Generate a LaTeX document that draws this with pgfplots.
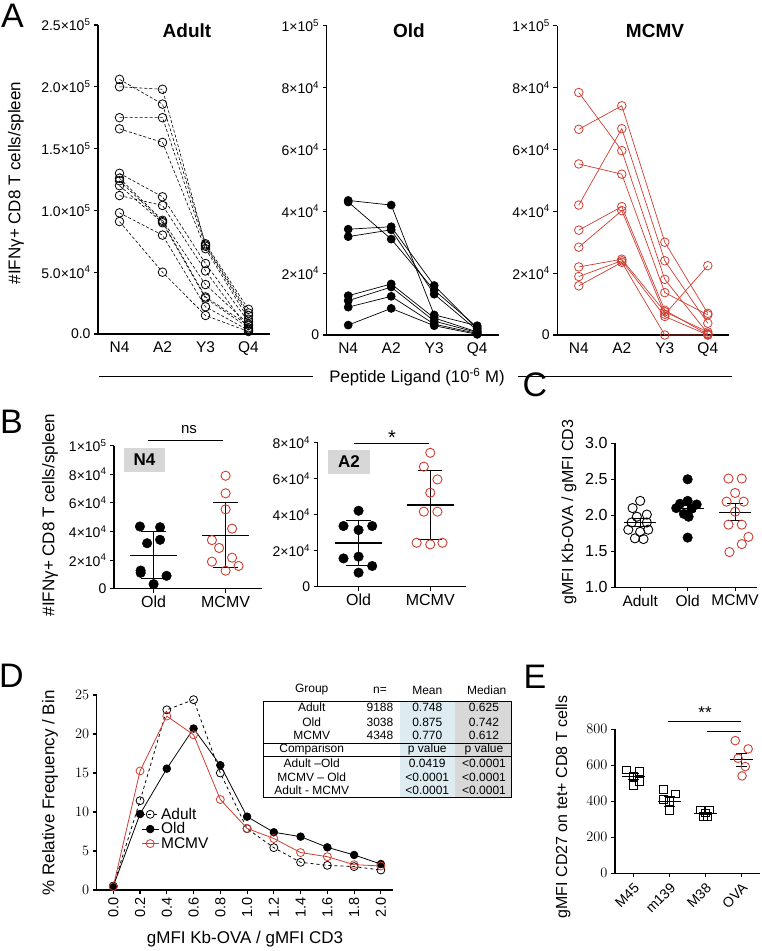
\documentclass[border=0pt]{standalone}
\usepackage{fontspec}
\setmainfont{Liberation Sans}
\usepackage{pgfplots}
\pgfplotsset{compat=1.18}
\definecolor{mred}{RGB}{205,62,50}
\definecolor{tblue}{RGB}{222,236,242}
\definecolor{tgray}{RGB}{216,216,216}
\definecolor{boxgray}{RGB}{215,215,215}
\newcommand{\fs}[1]{\fontsize{#1}{#1}\selectfont}
\newcommand{\tx}[2]{#1×10\textsuperscript{#2}}
\pgfplotsset{
  base/.style={scale only axis, anchor=south west, axis lines=left,
    axis line style={-, line width=1.3pt, black},
    tick align=outside, major tick length=4pt,
    tick style={black, line width=1.1pt},
    tick label style={font=\fs{14}, black},
    clip=false},
  aAdult/.style={black, densely dashed, line width=0.6pt, mark=o, mark size=4.3pt, mark options={solid, line width=0.8pt}},
  aOld/.style={black, line width=0.7pt, mark=*, mark size=4pt},
  aMCMV/.style={mred, line width=0.7pt, mark=o, mark size=4.3pt, mark options={line width=0.8pt}},
  sOld/.style={only marks, mark=*, mark size=4.8pt, black},
  sAdult/.style={only marks, mark=o, mark size=4.6pt, black, mark options={line width=0.9pt}},
  sMCMV/.style={only marks, mark=o, mark size=4.6pt, mred, mark options={line width=0.9pt}},
  sSq/.style={only marks, mark=square, mark size=3.9pt, black, mark options={line width=0.9pt}},
  bar/.style={black, line width=1.1pt, no marks},
}
\begin{document}
\begin{tikzpicture}
\useasboundingbox (0pt,0pt) rectangle (762pt,951pt);
% ---------------- Panel A ----------------
\node[font=\fs{34}] at (12.5pt,935pt) {A};
\node[font=\bfseries\fs{19}] at (187pt,920pt) {Adult};
\node[font=\bfseries\fs{19}] at (409pt,920pt) {Old};
\node[font=\bfseries\fs{19}] at (655pt,920pt) {MCMV};
\node[font=\fs{17}, rotate=90] at (16pt,768pt) {\#IFNγ+ CD8 T cells/spleen};
\node[font=\fs{16.7}] at (417pt,574pt) {Peptide Ligand (10\textsuperscript{-6} M)};
\draw[line width=1pt] (99pt,574pt) -- (313pt,574pt);
\draw[line width=1pt] (518pt,574pt) -- (732pt,574pt);

\begin{axis}[base, at={(98pt,617pt)}, width=172pt, height=309pt,
  xmin=0.5, xmax=4.5, ymin=0, ymax=250,
  xtick={1,2,3,4}, xticklabels={N4,A2,Y3,Q4}, xtick style={draw=none},
  xticklabel style={font=\fs{15.5}},
  ytick={0,50,100,150,200,250},
  yticklabels={0.0,\tx{5.0}{4},\tx{1.0}{5},\tx{1.5}{5},\tx{2.0}{5},\tx{2.5}{5}}]
\addplot[aAdult] coordinates {(1,206) (2,186) (3,73) (4,20)};
\addplot[aAdult] coordinates {(1,200) (2,198) (3,72) (4,17)};
\addplot[aAdult] coordinates {(1,175) (2,175) (3,71) (4,15)};
\addplot[aAdult] coordinates {(1,166) (2,155) (3,69) (4,12)};
\addplot[aAdult] coordinates {(1,130) (2,111) (3,57) (4,10)};
\addplot[aAdult] coordinates {(1,126) (2,92) (3,40) (4,8)};
\addplot[aAdult] coordinates {(1,124) (2,91) (3,30) (4,7)};
\addplot[aAdult] coordinates {(1,120) (2,90) (3,29) (4,5)};
\addplot[aAdult] coordinates {(1,112) (2,104) (3,51) (4,4)};
\addplot[aAdult] coordinates {(1,98) (2,80) (3,22) (4,3)};
\addplot[aAdult] coordinates {(1,91) (2,50) (3,15) (4,2)};
\end{axis}

\begin{axis}[base, at={(326.7pt,616pt)}, width=172pt, height=309.3pt,
  xmin=0.5, xmax=4.5, ymin=0, ymax=100,
  xtick={1,2,3,4}, xticklabels={N4,A2,Y3,Q4}, xtick style={draw=none},
  xticklabel style={font=\fs{15.5}},
  ytick={0,20,40,60,80,100},
  yticklabels={0,\tx{2}{4},\tx{4}{4},\tx{6}{4},\tx{8}{4},\tx{1}{5}}]
\addplot[aOld] coordinates {(1,43.5) (2,42) (3,6.5) (4,3)};
\addplot[aOld] coordinates {(1,43.0) (2,31) (3,14.5) (4,2.5)};
\addplot[aOld] coordinates {(1,34.2) (2,35) (3,16) (4,2)};
\addplot[aOld] coordinates {(1,31.8) (2,34) (3,13.2) (4,1.5)};
\addplot[aOld] coordinates {(1,12.7) (2,16.5) (3,5.5) (4,1)};
\addplot[aOld] coordinates {(1,11.1) (2,15.5) (3,4.5) (4,0.8)};
\addplot[aOld] coordinates {(1,9.0) (2,12.5) (3,3.5) (4,0.5)};
\addplot[aOld] coordinates {(1,3.2) (2,8.6) (3,3.0) (4,0.2)};
\end{axis}

\begin{axis}[base, at={(557.3pt,616pt)}, width=172pt, height=309.3pt,
  xmin=0.5, xmax=4.5, ymin=0, ymax=100,
  xtick={1,2,3,4}, xticklabels={N4,A2,Y3,Q4}, xtick style={draw=none},
  xticklabel style={font=\fs{15.5}},
  ytick={0,20,40,60,80,100},
  yticklabels={0,\tx{2}{4},\tx{4}{4},\tx{6}{4},\tx{8}{4},\tx{1}{5}}]
\addplot[aMCMV] coordinates {(1,78.4) (2,59.6) (3,18) (4,0.5)};
\addplot[aMCMV] coordinates {(1,66.5) (2,74.1) (3,30) (4,7)};
\addplot[aMCMV] coordinates {(1,55.3) (2,52) (3,13.7) (4,6.5)};
\addplot[aMCMV] coordinates {(1,42) (2,66.7) (3,24) (4,3.8)};
\addplot[aMCMV] coordinates {(1,33.9) (2,41.5) (3,8) (4,0.2)};
\addplot[aMCMV] coordinates {(1,28.4) (2,40.2) (3,6.7) (4,22.4)};
\addplot[aMCMV] coordinates {(1,22) (2,24.5) (3,7.5) (4,1)};
\addplot[aMCMV] coordinates {(1,18.9) (2,24) (3,6) (4,0)};
\addplot[aMCMV] coordinates {(1,15.9) (2,23.5) (3,0) (4,0)};
\end{axis}

% ---------------- Panel B ----------------
\node[font=\fs{34}] at (11.5pt,529pt) {B};
\node[font=\fs{17}, rotate=90] at (50pt,436pt) {\#IFNγ+ CD8 T cells/spleen};
\node[fill=boxgray, minimum width=41pt, minimum height=24pt, inner sep=0pt, font=\bfseries\fs{17}] at (144.5pt,491pt) {N4};
\node[fill=boxgray, minimum width=42pt, minimum height=24pt, inner sep=0pt, font=\bfseries\fs{17}] at (349pt,489pt) {A2};
\node[font=\fs{15}] at (189pt,521pt) {ns};
\draw[line width=1pt] (148pt,510pt) -- (223pt,510pt);
\node[font=\fs{20}] at (392pt,513pt) {*};
\draw[line width=1pt] (354pt,507pt) -- (429pt,507pt);

\begin{axis}[base, at={(114pt,362.3pt)}, width=147.6pt, height=143pt,
  xmin=0.45, xmax=2.5, ymin=0, ymax=100,
  xtick={1,2}, xticklabels={Old,MCMV}, xticklabel style={font=\fs{16}},
  ytick={0,20,40,60,80,100},
  yticklabels={0,\tx{2}{4},\tx{4}{4},\tx{6}{4},\tx{8}{4},\tx{1}{5}}]
\addplot[sOld] coordinates {(0.81,43.5) (1.09,43.0) (1.09,34.2) (0.91,31.8) (0.82,12.7) (0.82,11.1) (1.18,9.0) (1.0,3.2)};
\addplot[sMCMV] coordinates {(2,79) (2,66.7) (2,55.5) (2.09,42) (1.81,34) (1.91,28.5) (2.09,21.7) (1.81,18.9) (2.18,15.9) (2,12.6)};
\addplot[bar] coordinates {(0.67,23.5) (1.33,23.5)};
\addplot[bar] coordinates {(1,7) (1,40.3)};
\addplot[bar] coordinates {(0.83,7) (1.17,7)};
\addplot[bar] coordinates {(0.83,40.3) (1.17,40.3)};
\addplot[bar] coordinates {(1.67,37.5) (2.33,37.5)};
\addplot[bar] coordinates {(2,14.9) (2,60.4)};
\addplot[bar] coordinates {(1.83,14.9) (2.17,14.9)};
\addplot[bar] coordinates {(1.83,60.4) (2.17,60.4)};
\end{axis}

\begin{axis}[base, at={(317.7pt,364.3pt)}, width=148.4pt, height=144pt,
  xmin=0.43, xmax=2.5, ymin=0, ymax=80,
  xtick={1,2}, xticklabels={Old,MCMV}, xticklabel style={font=\fs{16}},
  ytick={0,20,40,60,80},
  yticklabels={0,\tx{2}{4},\tx{4}{4},\tx{6}{4},\tx{8}{4}}]
\addplot[sOld] coordinates {(1,42.2) (0.79,33.7) (1.19,33.7) (1,31.5) (0.79,15.7) (1,16.7) (1.19,11.5) (1,7.8)};
\addplot[sMCMV] coordinates {(2,74.4) (1.91,66.7) (2.1,59.6) (2,52.2) (1.91,41.7) (2.1,41.7) (1.81,24.4) (2,23.5) (2.17,24.4)};
\addplot[bar] coordinates {(0.67,24.3) (1.33,24.3)};
\addplot[bar] coordinates {(1,11.7) (1,36.9)};
\addplot[bar] coordinates {(0.83,11.7) (1.17,11.7)};
\addplot[bar] coordinates {(0.83,36.9) (1.17,36.9)};
\addplot[bar] coordinates {(1.67,45.4) (2.33,45.4)};
\addplot[bar] coordinates {(2,26.3) (2,64.4)};
\addplot[bar] coordinates {(1.83,26.3) (2.17,26.3)};
\addplot[bar] coordinates {(1.83,64.4) (2.17,64.4)};
\end{axis}

% ---------------- Panel C ----------------
\node[font=\fs{34}] at (535pt,566pt) {C};
\node[font=\fs{16}, rotate=90] at (569pt,439pt) {gMFI Kb-OVA / gMFI CD3};
\begin{axis}[base, at={(615pt,363.7pt)}, width=141.5pt, height=144pt,
  xmin=0.47, xmax=3.45, ymin=1, ymax=3,
  xtick={1,2,3}, xticklabels={Adult,Old,MCMV}, xticklabel style={font=\fs{15.5}},
  ytick={1,1.5,2,2.5,3}, yticklabels={1.0,1.5,2.0,2.5,3.0},
  yticklabel style={font=\fs{16}}]
\addplot[sAdult] coordinates {(1,2.20) (0.84,2.10) (1.14,2.01) (0.93,1.98) (0.82,1.90) (1.14,1.90) (0.75,1.80) (1,1.77) (1.17,1.80) (0.89,1.68) (1.07,1.67)};
\addplot[sOld] coordinates {(2,2.50) (2,2.20) (1.84,2.16) (2.19,2.15) (1.76,2.10) (2.08,2.09) (1.92,2.02) (2.02,1.98) (2,1.69)};
\addplot[sMCMV] coordinates {(2.86,2.51) (3.14,2.51) (3,2.31) (2.82,2.19) (3.18,2.19) (3,2.05) (2.86,1.87) (3.14,1.87) (3.28,1.70) (3.14,1.60) (2.88,1.49)};
\addplot[bar] coordinates {(0.66,1.90) (1.34,1.90)};
\addplot[bar] coordinates {(1,1.85) (1,1.95)};
\addplot[bar] coordinates {(0.83,1.85) (1.17,1.85)};
\addplot[bar] coordinates {(0.83,1.95) (1.17,1.95)};
\addplot[bar] coordinates {(1.66,2.10) (2.34,2.10)};
\addplot[bar] coordinates {(2,2.06) (2,2.14)};
\addplot[bar] coordinates {(1.83,2.06) (2.17,2.06)};
\addplot[bar] coordinates {(1.83,2.14) (2.17,2.14)};
\addplot[bar] coordinates {(2.66,2.04) (3.34,2.04)};
\addplot[bar] coordinates {(3,1.93) (3,2.16)};
\addplot[bar] coordinates {(2.83,1.93) (3.17,1.93)};
\addplot[bar] coordinates {(2.83,2.16) (3.17,2.16)};
\end{axis}

% ---------------- Panel D ----------------
\node[font=\fs{34}] at (11.5pt,275.5pt) {D};
\node[font=\fs{17}, rotate=90] at (50pt,158pt) {\% Relative Frequency / Bin};
\node[font=\fs{17}] at (245pt,12pt) {gMFI Kb-OVA / gMFI CD3};
\begin{axis}[base, at={(96.7pt,61pt)}, width=295.8pt, height=195pt,
  xmin=-0.124, xmax=2.087, ymin=0, ymax=25,
  xtick={0,0.2,0.4,0.6,0.8,1.0,1.2,1.4,1.6,1.8,2.0},
  xticklabels={0.0,0.2,0.4,0.6,0.8,1.0,1.2,1.4,1.6,1.8,2.0},
  xticklabel style={rotate=90, anchor=east, font=\fs{14.5}},
  ytick={0,5,10,15,20,25}, yticklabel style={font=\fs{14.5}},
  legend style={at={(0.15,0.432)}, anchor=north west, draw=none, fill=none,
    font=\fs{15.5}, inner sep=0pt, row sep=-2pt},
  legend cell align=left]
\addplot[black, dashed, line width=0.8pt, mark=o, mark size=4pt, mark options={solid, line width=0.8pt}]
  coordinates {(0,0.5) (0.2,11.45) (0.4,23.1) (0.6,24.4) (0.8,15.0) (1.0,7.86) (1.2,5.43) (1.4,3.55) (1.6,3.16) (1.8,3.0) (2.0,2.56)};
\addlegendentry{Adult}
\addplot[black, line width=0.8pt, mark=*, mark size=3.8pt]
  coordinates {(0,0.5) (0.2,9.74) (0.4,15.56) (0.6,20.7) (0.8,16.0) (1.0,9.4) (1.2,7.4) (1.4,6.84) (1.6,5.47) (1.8,4.49) (2.0,3.33)};
\addlegendentry{Old}
\addplot[mred, line width=0.8pt, mark=o, mark size=4pt, mark options={line width=0.8pt}]
  coordinates {(0,0.43) (0.2,15.26) (0.4,22.3) (0.6,19.9) (0.8,11.6) (1.0,7.9) (1.2,6.6) (1.4,4.8) (1.6,4.27) (1.8,3.25) (2.0,3.08)};
\addlegendentry{MCMV}
\end{axis}

% table
\fill[tblue] (400pt,153.7pt) rectangle (455pt,249.3pt);
\fill[tgray] (455pt,153.7pt) rectangle (511pt,249.3pt);
\draw[line width=0.9pt] (263pt,153.7pt) rectangle (511pt,249.3pt);
\draw[line width=0.9pt] (263pt,207.7pt) -- (511pt,207.7pt);
\draw[line width=0.9pt] (263pt,194.3pt) -- (511pt,194.3pt);
\begin{scope}[every node/.style={font=\fs{12}, inner sep=0pt}]
\node at (311.7pt,261pt) {Group};
\node at (380pt,261pt) {n=};
\node at (427.3pt,261pt) {Mean};
\node at (486.7pt,261pt) {Median};
\node at (311.7pt,243.3pt) {Adult};
\node at (311.7pt,229pt) {Old};
\node at (311.7pt,216pt) {MCMV};
\node at (380pt,243.3pt) {9188};
\node at (380pt,229pt) {3038};
\node at (380pt,216pt) {4348};
\node at (427.3pt,243.3pt) {0.748};
\node at (427.3pt,229pt) {0.875};
\node at (427.3pt,216pt) {0.770};
\node at (484pt,243.3pt) {0.625};
\node at (484pt,229pt) {0.742};
\node at (484pt,216pt) {0.612};
\node at (311.7pt,201.7pt) {Comparison};
\node at (427.3pt,201.7pt) {p value};
\node at (484pt,201.7pt) {p value};
\node at (311.7pt,187.7pt) {Adult –Old};
\node at (311.7pt,173.7pt) {MCMV – Old};
\node at (311.7pt,161pt) {Adult - MCMV};
\node at (427.3pt,187.7pt) {0.0419};
\node at (427.3pt,173.7pt) {<0.0001};
\node at (427.3pt,161pt) {<0.0001};
\node at (484pt,187.7pt) {<0.0001};
\node at (484pt,173.7pt) {<0.0001};
\node at (484pt,161pt) {<0.0001};
\end{scope}

% ---------------- Panel E ----------------
\node[font=\fs{34}] at (535pt,274pt) {E};
\node[font=\fs{16}, rotate=90] at (563pt,144pt) {gMFI CD27 on tet+ CD8 T cells};
\node[font=\fs{17}] at (705pt,238pt) {**};
\draw[line width=1pt] (667.7pt,229.3pt) -- (740.7pt,229.3pt);
\draw[line width=1pt] (706.7pt,219.3pt) -- (740.7pt,219.3pt);
\begin{axis}[base, at={(615pt,77.7pt)}, width=145.4pt, height=144pt,
  xmin=0.49, xmax=4.53, ymin=0, ymax=800,
  xtick={1,2,3,4}, xticklabels={M45,m139,M38,OVA},
  xticklabel style={rotate=45, anchor=north east, font=\fs{14}},
  ytick={0,200,400,600,800}, yticklabel style={font=\fs{15.5}}]
\addplot[sSq] coordinates {(0.81,574) (1.17,565) (1,537) (1.17,509) (1,487)};
\addplot[sSq] coordinates {(1.83,467) (2.16,441) (1.83,411) (2,398) (2,348)};
\addplot[sSq] coordinates {(2.86,352) (3.12,352) (3,335) (2.94,318) (3.06,315)};
\addplot[sMCMV, mark size=4.3pt] coordinates {(3.83,737) (4.19,691) (3.91,639) (4.11,593) (4.02,541)};
\addplot[bar] coordinates {(0.68,537) (1.32,537)};
\addplot[bar] coordinates {(1,520) (1,553)};
\addplot[bar] coordinates {(0.85,520) (1.15,520)};
\addplot[bar] coordinates {(0.85,553) (1.15,553)};
\addplot[bar] coordinates {(1.68,398) (2.32,398)};
\addplot[bar] coordinates {(2,370) (2,426)};
\addplot[bar] coordinates {(1.85,370) (2.15,370)};
\addplot[bar] coordinates {(1.85,426) (2.15,426)};
\addplot[bar] coordinates {(2.68,331) (3.32,331)};
\addplot[bar] coordinates {(3,325) (3,338)};
\addplot[bar] coordinates {(2.85,325) (3.15,325)};
\addplot[bar] coordinates {(2.85,338) (3.15,338)};
\addplot[bar] coordinates {(3.68,630) (4.32,630)};
\addplot[bar] coordinates {(4,593) (4,667)};
\addplot[bar] coordinates {(3.85,593) (4.15,593)};
\addplot[bar] coordinates {(3.85,667) (4.15,667)};
\end{axis}
\end{tikzpicture}
\end{document}
